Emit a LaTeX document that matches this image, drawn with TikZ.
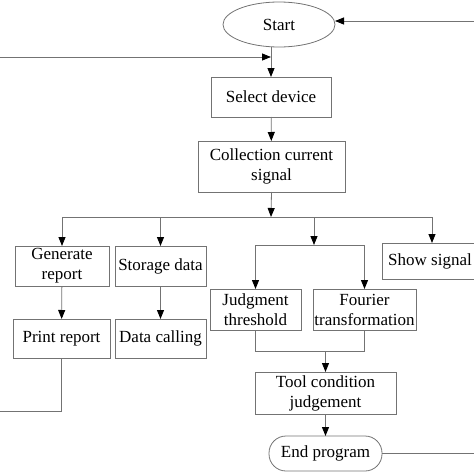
\documentclass[tikz,border=0pt]{standalone}
\usepackage{fontspec}
\setmainfont{Liberation Serif}
\usepackage{tikz}
\usetikzlibrary{arrows.meta, shapes.geometric}

\begin{document}
\begin{tikzpicture}[x=1pt, y=-1pt]
    \useasboundingbox (0,0) rectangle (474,474);
    \begin{scope}[every node/.style={inner sep=0, outer sep=0, font=\fontsize{17}{20}\selectfont, align=center},
        box/.style={draw=black!55, line width=0.8pt, rectangle},
        link/.style={draw=black!55, line width=0.8pt},
        arr/.style={link, -{Triangle[length=9pt, width=7pt, color=black]}}]
        \node [box, ellipse, minimum width=112, minimum height=45] (start) at (279,24.5) {Start};
        \node [box, minimum width=120, minimum height=40] (sel) at (271,97) {Select device};
        \node [box, minimum width=147, minimum height=51] (coll) at (271.5,166.5) {Collection current\\signal};
        \node [box, minimum width=94, minimum height=40] (gen) at (62,266) {Generate\\report};
        \node [box, minimum width=91, minimum height=40] (stor) at (160.5,266) {Storage data};
        \node [box, minimum width=96, minimum height=36] (show) at (430,261) {Show signal};
        \node [box, minimum width=91, minimum height=41] (jud) at (255.5,309.5) {Judgment\\threshold};
        \node [box, minimum width=103, minimum height=41] (four) at (364.5,309.5) {Fourier\\transformation};
        \node [box, minimum width=97, minimum height=39] (prt) at (61.5,338.5) {Print report};
        \node [box, minimum width=91, minimum height=39] (dat) at (160.5,338.5) {Data calling};
        \node [box, minimum width=141, minimum height=42] (tool) at (325.5,393) {Tool condition\\judgement};
        \node [box, rounded corners=17, minimum width=113, minimum height=35] (endp) at (325.5,453.5) {End program};
        % joints of the branches
        \coordinate (join) at (271,57);
        \coordinate (bus) at (271,217);
        \coordinate (busend) at (432,217);
        \coordinate (fork) at (314,245);
        \coordinate (merge) at (325.5,351);
        % main line
        \draw [arr] (start.south -| sel.north) -- (sel.north);
        \draw [arr] (sel) -- (coll);
        \draw [arr] (coll.south) -- (bus);
        \draw [link] (gen.north |- bus) -- (busend);
        \foreach \x in {gen,stor} {\draw [arr] (\x.north |- bus) -- (\x.north);};
        \draw [arr] (busend) -- (busend |- show.north);
        \draw [arr] (fork |- bus) -- (fork);
        \draw [link] (jud.north |- fork) -- (four.north |- fork);
        \foreach \x in {jud,four} {\draw [arr] (\x.north |- fork) -- (\x.north);};
        \draw [arr] (gen) -- (prt);
        \draw [arr] (stor) -- (dat);
        \draw [link] (jud.south) -- (jud.south |- merge) -- (four.south |- merge) -- (four.south);
        \draw [arr] (merge) -- (tool.north);
        \draw [arr] (tool) -- (endp);
        % loops back to the start
        \draw [link] (endp.east) -- (474,453.5);
        \draw [arr] (474,21) -- (start.east |- 0,21);
        \draw [link] (prt.south) -- (61.5,411) -- (0,411);
        \draw [arr] (0,57) -- (join);
    \end{scope}
\end{tikzpicture}
\end{document}
